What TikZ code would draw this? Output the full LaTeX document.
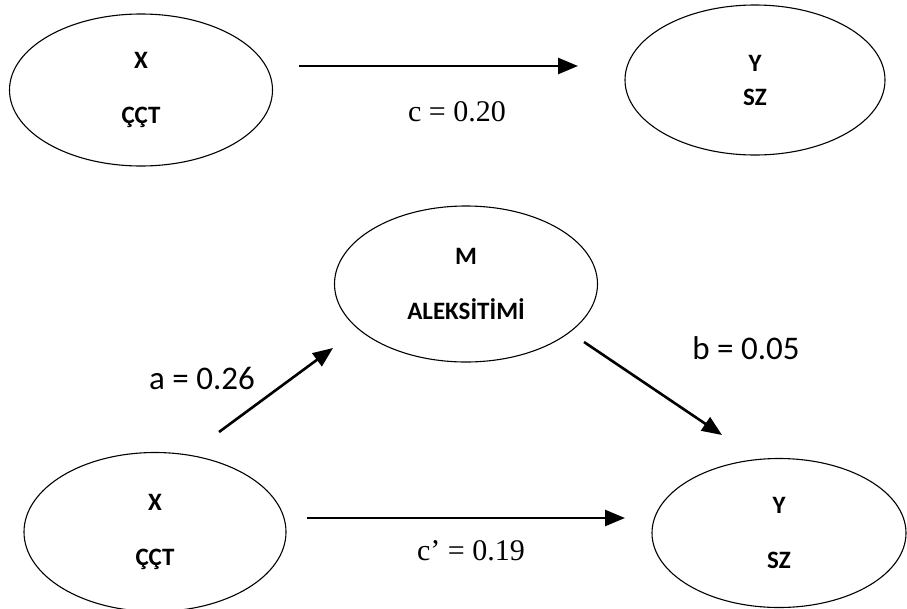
\documentclass[tikz,border=0pt]{standalone}
\usepackage{fontspec}
\setmainfont{Carlito}
\newfontfamily\timesfont{Liberation Serif}
\usetikzlibrary{arrows.meta,shapes.geometric}

\begin{document}
\begin{tikzpicture}[->,>={Triangle[length=20pt,width=16pt]},x=1pt,y=-1pt,line width=2.6pt]
	\tikzstyle{latent}=[ellipse,draw=black,line width=1.1pt,inner sep=0pt,align=center,font=\bfseries\fontsize{25}{55}\selectfont]
	\tikzstyle{coef}=[font=\fontsize{33}{33}\selectfont]
	\tikzstyle{coefserif}=[font=\timesfont\fontsize{30}{30}\selectfont]
	\useasboundingbox (0,0) rectangle (907,608);
	% total effect
	\node[latent,minimum width=263pt,minimum height=152pt] (x1) at (141,90) {X\\ÇÇT};
	\node[latent,minimum width=260pt,minimum height=150pt,font=\bfseries\fontsize{25}{34}\selectfont] (y1) at (755,80) {Y\\SZ};
	\coordinate (c-from) at (299,66);
	\coordinate (c-to)   at (578,66);
	\path (c-from) edge (c-to);
	\node[coefserif] (lc) at (457,112) {c = 0.20};
	% mediation model
	\node[latent,minimum width=263pt,minimum height=156pt] (m)  at (466,284) {M\\ALEKSİTİMİ};
	\node[latent,minimum width=262pt,minimum height=159pt] (x2) at (155,532) {X\\ÇÇT};
	\node[latent,minimum width=254pt,minimum height=149pt] (y2) at (779,533) {Y\\SZ};
	\coordinate (a-from)  at (219,432);
	\coordinate (a-to)    at (333,348);
	\coordinate (b-from)  at (584,342);
	\coordinate (b-to)    at (722,435);
	\coordinate (cp-from) at (307,518);
	\coordinate (cp-to)   at (625,518);
	\path (a-from)  edge (a-to);
	\path (b-from)  edge (b-to);
	\path (cp-from) edge (cp-to);
	\node[coef]      (la)  at (202,378) {a = 0.26};
	\node[coef]      (lb)  at (746,348) {b = 0.05};
	\node[coefserif] (lcp) at (471,551) {c’ = 0.19};
\end{tikzpicture}
\end{document}
